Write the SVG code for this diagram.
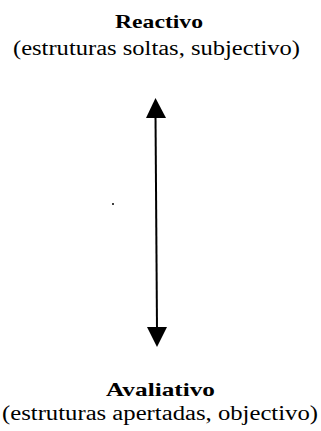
<svg xmlns="http://www.w3.org/2000/svg" width="321" height="431" viewBox="0 0 321 431">
<style>
.t{font-family:"Liberation Serif","Times New Roman",serif;fill:#000}
.b{font-weight:bold;font-size:19px}
.s{font-size:20px}
</style>
<rect width="321" height="431" fill="#fff"/>
<g id="reactivo">
<text class="t b" x="115" y="28" textLength="88" lengthAdjust="spacingAndGlyphs">Reactivo</text>
<text class="t s" x="13" y="55" textLength="287" lengthAdjust="spacingAndGlyphs">(estruturas soltas, subjectivo)</text>
</g>
<g id="avaliativo">
<text class="t b" x="106" y="396" textLength="109" lengthAdjust="spacingAndGlyphs">Avaliativo</text>
<text class="t s" x="2" y="420" textLength="316" lengthAdjust="spacingAndGlyphs">(estruturas apertadas, objectivo)</text>
</g>
<g id="connectors">
<line x1="155.5" y1="115" x2="157" y2="330" stroke="#000" stroke-width="2"/>
<polygon points="155.5,98 146,118 166,118" fill="#000"/>
<polygon points="157,347 147,327 167,327" fill="#000"/>
</g>
<circle cx="113" cy="204" r="1" fill="#000"/>
</svg>
